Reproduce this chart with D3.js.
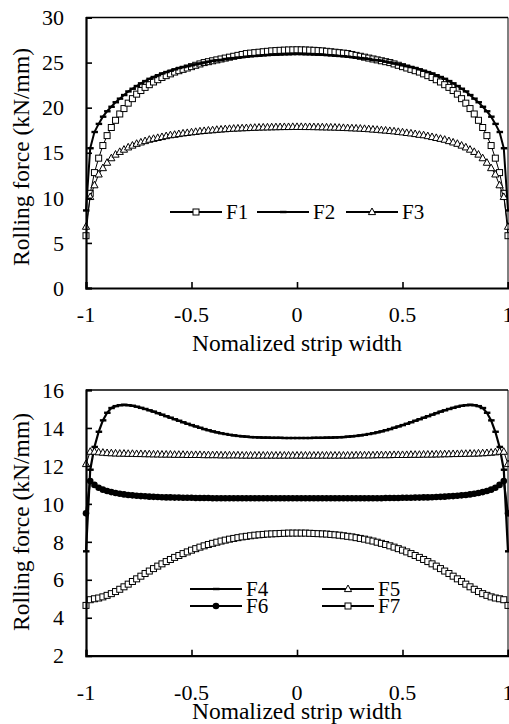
<!DOCTYPE html>
<html>
<head>
<meta charset="utf-8">
<script src="https://cdn.jsdelivr.net/npm/d3@7/dist/d3.min.js"></script>
<style>
html,body{margin:0;padding:0;background:#fff;}
svg{display:block;}
</style>
</head>
<body>
<svg id="chart" width="509" height="724"></svg>
<script>
// ---------- DATA ----------
const xPos = [-1,-0.98,-0.96,-0.94,-0.92,-0.9,-0.88,-0.86,-0.84,-0.82,-0.8,-0.78,-0.76,-0.74,-0.72,-0.7,-0.68,-0.66,-0.64,-0.62,-0.6,-0.58,-0.56,-0.54,-0.52,-0.5,-0.48,-0.46,-0.44,-0.42,-0.4,-0.38,-0.36,-0.34,-0.32,-0.3,-0.28,-0.26,-0.24,-0.22,-0.2,-0.18,-0.16,-0.14,-0.12,-0.1,-0.08,-0.06,-0.04,-0.02,0,
  0.02,0.04,0.06,0.08,0.1,0.12,0.14,0.16,0.18,0.2,0.22,0.24,0.26,0.28,0.3,0.32,0.34,0.36,0.38,0.4,0.42,0.44,0.46,0.48,0.5,0.52,0.54,0.56,0.58,0.6,0.62,0.64,0.66,0.68,0.7,0.72,0.74,0.76,0.78,0.8,0.82,0.84,0.86,0.88,0.9,0.92,0.94,0.96,0.98,1];

const F1 = [5.8,10.5,12.8,14.4,15.8,16.9,17.8,18.6,19.3,19.9,20.5,21.0,21.5,21.9,22.25,22.55,22.85,23.1,23.35,23.55,23.75,23.95,24.1,24.25,24.4,24.55,24.7,24.85,25.0,25.1,25.2,25.3,25.4,25.5,25.6,25.7,25.8,25.9,26.0,26.05,26.1,26.15,26.2,26.25,26.3,26.33,26.36,26.38,26.4,26.41,26.42,
  26.41,26.4,26.38,26.36,26.33,26.3,26.25,26.2,26.15,26.1,26.05,26.0,25.9,25.8,25.7,25.6,25.5,25.4,25.3,25.2,25.1,25.0,24.85,24.7,24.55,24.4,24.25,24.1,23.95,23.75,23.55,23.35,23.1,22.85,22.55,22.25,21.9,21.5,21.0,20.5,19.9,19.3,18.6,17.8,16.9,15.8,14.4,12.8,10.5,5.8];

const F2 = [8.6,15.5,17.3,18.2,19.0,19.6,20.1,20.6,21.0,21.4,21.8,22.1,22.4,22.7,22.95,23.2,23.4,23.6,23.8,23.95,24.1,24.25,24.4,24.5,24.6,24.7,24.8,24.9,25.0,25.1,25.2,25.25,25.3,25.4,25.45,25.5,25.55,25.6,25.65,25.7,25.73,25.76,25.8,25.83,25.86,25.88,25.9,25.92,25.93,25.94,25.95,
  25.94,25.93,25.92,25.9,25.88,25.86,25.83,25.8,25.76,25.73,25.7,25.65,25.6,25.55,25.5,25.45,25.4,25.3,25.25,25.2,25.1,25.0,24.9,24.8,24.7,24.6,24.5,24.4,24.25,24.1,23.95,23.8,23.6,23.4,23.2,22.95,22.7,22.4,22.1,21.8,21.4,21.0,20.6,20.1,19.6,19.0,18.2,17.3,15.5,8.6];

const F3 = [6.8,10.1,11.4,12.6,13.3,13.9,14.4,14.8,15.1,15.35,15.6,15.8,16.0,16.15,16.3,16.45,16.55,16.65,16.75,16.85,16.95,17.0,17.08,17.15,17.2,17.27,17.32,17.38,17.42,17.47,17.5,17.55,17.58,17.62,17.65,17.68,17.7,17.72,17.74,17.76,17.78,17.8,17.81,17.82,17.83,17.84,17.85,17.86,17.86,17.87,17.87,
  17.87,17.86,17.86,17.85,17.84,17.83,17.82,17.81,17.8,17.78,17.76,17.74,17.72,17.7,17.68,17.65,17.62,17.58,17.55,17.5,17.47,17.42,17.38,17.32,17.27,17.2,17.15,17.08,17.0,16.95,16.85,16.75,16.65,16.55,16.45,16.3,16.15,16.0,15.8,15.6,15.35,15.1,14.8,14.4,13.9,13.3,12.6,11.4,10.1,6.8];

const F4 = [7.5,11.8,13.0,13.8,14.4,14.8,15.05,15.15,15.2,15.22,15.2,15.17,15.12,15.06,15.0,14.93,14.86,14.78,14.7,14.62,14.54,14.46,14.38,14.3,14.22,14.15,14.08,14.01,13.94,13.88,13.82,13.77,13.72,13.68,13.64,13.61,13.58,13.56,13.54,13.52,13.51,13.5,13.49,13.49,13.48,13.48,13.48,13.47,13.47,13.47,13.47,
  13.47,13.47,13.47,13.48,13.48,13.48,13.49,13.49,13.5,13.51,13.52,13.54,13.56,13.58,13.61,13.64,13.68,13.72,13.77,13.82,13.88,13.94,14.01,14.08,14.15,14.22,14.3,14.38,14.46,14.54,14.62,14.7,14.78,14.86,14.93,15.0,15.06,15.12,15.17,15.2,15.22,15.2,15.15,15.05,14.8,14.4,13.8,13.0,11.8,7.5];

const F5 = [12.1,12.75,12.75,12.72,12.7,12.68,12.67,12.66,12.65,12.65,12.64,12.64,12.63,12.63,12.62,12.62,12.61,12.61,12.6,12.6,12.6,12.59,12.59,12.59,12.58,12.58,12.58,12.58,12.57,12.57,12.57,12.57,12.56,12.56,12.56,12.56,12.56,12.55,12.55,12.55,12.55,12.55,12.55,12.55,12.55,12.55,12.55,12.55,12.55,12.55,12.55,
  12.55,12.55,12.55,12.55,12.55,12.55,12.55,12.55,12.55,12.55,12.55,12.55,12.55,12.56,12.56,12.56,12.56,12.56,12.57,12.57,12.57,12.57,12.58,12.58,12.58,12.58,12.59,12.59,12.59,12.6,12.6,12.6,12.61,12.61,12.62,12.62,12.63,12.63,12.64,12.64,12.65,12.65,12.66,12.67,12.68,12.7,12.72,12.75,12.75,12.1];

const F6 = [9.5,11.2,11.0,10.85,10.75,10.68,10.62,10.57,10.53,10.5,10.47,10.45,10.43,10.41,10.4,10.38,10.37,10.36,10.35,10.34,10.34,10.33,10.33,10.32,10.32,10.32,10.31,10.31,10.31,10.31,10.3,10.3,10.3,10.3,10.3,10.3,10.3,10.3,10.3,10.3,10.3,10.3,10.3,10.3,10.3,10.3,10.3,10.3,10.3,10.3,10.3,
  10.3,10.3,10.3,10.3,10.3,10.3,10.3,10.3,10.3,10.3,10.3,10.3,10.3,10.3,10.3,10.3,10.3,10.3,10.3,10.3,10.31,10.31,10.31,10.31,10.32,10.32,10.32,10.33,10.33,10.34,10.34,10.35,10.36,10.37,10.38,10.4,10.41,10.43,10.45,10.47,10.5,10.53,10.57,10.62,10.68,10.75,10.85,11.0,11.2,9.5];

const F7 = [4.65,4.95,5.0,5.04,5.1,5.18,5.27,5.38,5.5,5.63,5.77,5.91,6.05,6.19,6.33,6.46,6.59,6.72,6.84,6.96,7.07,7.18,7.28,7.38,7.47,7.56,7.64,7.72,7.79,7.86,7.92,7.98,8.04,8.09,8.14,8.18,8.22,8.26,8.29,8.32,8.35,8.37,8.39,8.41,8.42,8.43,8.44,8.45,8.46,8.46,8.46,
  8.46,8.46,8.45,8.44,8.43,8.42,8.41,8.39,8.37,8.35,8.32,8.29,8.26,8.22,8.18,8.14,8.09,8.04,7.98,7.92,7.86,7.79,7.72,7.64,7.56,7.47,7.38,7.28,7.18,7.07,6.96,6.84,6.72,6.59,6.46,6.33,6.19,6.05,5.91,5.77,5.63,5.5,5.38,5.27,5.18,5.1,5.04,5.0,4.95,4.65];

const xTicks = [-1,-0.5,0,0.5,1];
const xTickLabels = ["-1","-0.5","0","0.5","1"];
const topYTicks = [0,5,10,15,20,25,30];
const botYTicks = [2,4,6,8,10,12,14,16];
const xTitle = "Nomalized strip width";
const yTitle = "Rolling force (kN/mm)";
const topNames = ["F1","F2","F3"];
const botNames = ["F4","F5","F6","F7"];

// ---------- DRAW ----------
const svg = d3.select("#chart");
const SERIF = '"Liberation Serif", "Times New Roman", serif';
const TICK_FONT = 22, TITLE_FONT = 23.5, LEG_FONT = 21;

function txt(g, s, size) {
  return g.append("text").style("font-family", SERIF).style("font-size", size + "px").attr("fill", "#000").text(s);
}

function marker(g, type, x, y) {
  if (type === "square") {
    g.append("rect").attr("x", x-3).attr("y", y-3).attr("width", 6).attr("height", 6)
      .attr("fill", "#fff").attr("stroke", "#000").attr("stroke-width", 1);
  } else if (type === "triangle") {
    g.append("path").attr("d", `M${x},${y-4}L${x+3.6},${y+2.6}L${x-3.6},${y+2.6}Z`)
      .attr("fill", "#fff").attr("stroke", "#000").attr("stroke-width", 1);
  } else if (type === "circle") {
    g.append("circle").attr("cx", x).attr("cy", y).attr("r", 3.3).attr("fill", "#000");
  } else if (type === "dash") {
    g.append("rect").attr("x", x-3).attr("y", y-1.2).attr("width", 6.5).attr("height", 2.4).attr("fill", "#000");
  }
}

function panel(cfg) {
  const g = svg.append("g");
  const x = d3.scaleLinear().domain([-1, 1]).range([86, 508]);
  const y = d3.scaleLinear().domain(cfg.yDomain).range(cfg.yRange);
  const [x0, x1] = x.range();
  const yb = y.range()[0], yt = y.range()[1];

  cfg.series.forEach(s => {
    const line = d3.line().x((d, i) => x(xPos[i])).y(d => y(d));
    g.append("path").datum(s.values).attr("d", line)
      .attr("fill", "none").attr("stroke", "#000").attr("stroke-width", s.lw);
    const mg = g.append("g");
    s.values.forEach((v, i) => marker(mg, s.marker, x(xPos[i]), y(v)));
  });

  g.append("line").attr("x1", x0).attr("x2", x1).attr("y1", yt).attr("y2", yt).attr("stroke", "#000").attr("stroke-width", 1.6);
  g.append("line").attr("x1", x1).attr("x2", x1).attr("y1", yt).attr("y2", yb).attr("stroke", "#000").attr("stroke-width", 1);

  const xAxis = d3.axisTop(x).tickValues(xTicks).tickSize(6).tickFormat("");
  g.append("g").attr("transform", `translate(0,${yb})`).call(xAxis)
    .call(a => a.select(".domain").attr("stroke-width", 2.2))
    .call(a => a.selectAll(".tick line").attr("stroke-width", 1.6));
  const yAxis = d3.axisRight(y).tickValues(cfg.yTicks).tickSize(6).tickFormat("");
  g.append("g").attr("transform", `translate(${x0},0)`).call(yAxis)
    .call(a => a.select(".domain").attr("stroke-width", 2.2))
    .call(a => a.selectAll(".tick line").attr("stroke-width", 1.6));

  xTicks.forEach((t, i) => {
    txt(g, xTickLabels[i], TICK_FONT).attr("x", x(t)).attr("y", cfg.xLabelY).attr("text-anchor", "middle");
  });
  cfg.yTicks.forEach(t => {
    txt(g, String(t), TICK_FONT).attr("x", 64).attr("y", y(t)).attr("dy", "0.35em").attr("text-anchor", "end");
  });

  txt(g, xTitle, TITLE_FONT).attr("x", 297).attr("y", cfg.xTitleY).attr("text-anchor", "middle");
  txt(g, yTitle, TITLE_FONT).attr("transform", `translate(29,${cfg.yTitleC}) rotate(-90)`).attr("text-anchor", "middle");

  cfg.legend.forEach(l => {
    g.append("line").attr("x1", l.x).attr("x2", l.x + 52).attr("y1", l.y).attr("y2", l.y)
      .attr("stroke", "#000").attr("stroke-width", 1.8);
    marker(g, l.marker, l.x + 26, l.y);
    txt(g, l.name, LEG_FONT).attr("x", l.x + 56).attr("y", l.y).attr("dy", "0.34em");
  });
}

panel({
  yDomain: [0, 30], yRange: [288, 17.5], yTicks: topYTicks,
  xLabelY: 322, xTitleY: 351, yTitleC: 157,
  series: [
    { values: F1, marker: "square", lw: 1 },
    { values: F2, marker: "dash", lw: 2 },
    { values: F3, marker: "triangle", lw: 1 }
  ],
  legend: [
    { name: topNames[0], marker: "square", x: 170, y: 212 },
    { name: topNames[1], marker: "dash", x: 257, y: 212 },
    { name: topNames[2], marker: "triangle", x: 346, y: 212 }
  ]
});

panel({
  yDomain: [2, 16], yRange: [655.7, 390], yTicks: botYTicks,
  xLabelY: 700, xTitleY: 719, yTitleC: 522,
  series: [
    { values: F4, marker: "dash", lw: 2.2 },
    { values: F5, marker: "triangle", lw: 1 },
    { values: F6, marker: "circle", lw: 2 },
    { values: F7, marker: "square", lw: 1 }
  ],
  legend: [
    { name: botNames[0], marker: "dash", x: 190, y: 589 },
    { name: botNames[1], marker: "triangle", x: 322, y: 589 },
    { name: botNames[2], marker: "circle", x: 190, y: 606 },
    { name: botNames[3], marker: "square", x: 322, y: 606 }
  ]
});
</script>
</body>
</html>
